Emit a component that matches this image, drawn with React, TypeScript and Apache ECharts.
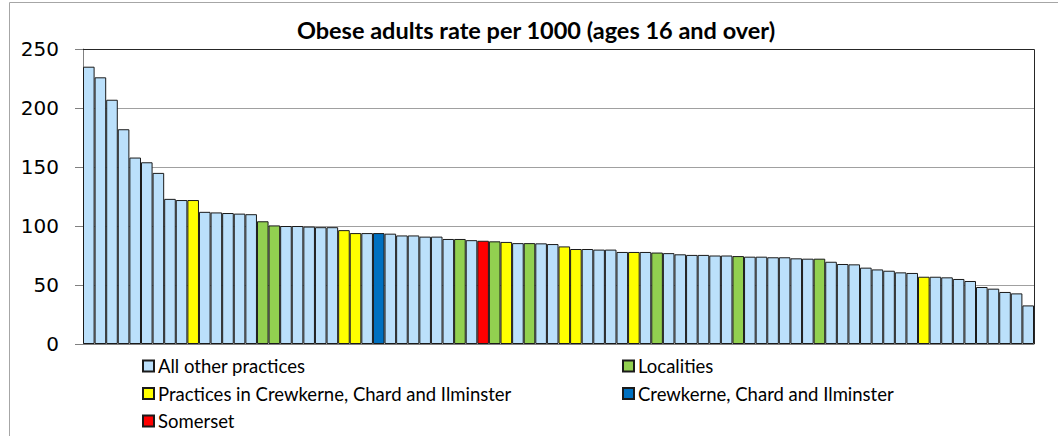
import React, { useEffect, useRef } from "react";
import * as echarts from "echarts";

const TITLE = "Obese adults rate per 1000 (ages 16 and over)";

const GROUP_NAMES = [
  "All other practices",
  "Localities",
  "Practices in Crewkerne, Chard and Ilminster",
  "Crewkerne, Chard and Ilminster",
  "Somerset",
];
const GROUP_COLORS = ["#BBE0FB", "#92D050", "#FFFF00", "#0070C0", "#FF0000"];

// bar values, in display order (descending)
const VALUES = [
  235, 226, 207, 182, 158, 154, 145, 123, 122, 122,
  112, 111.5, 111, 110.5, 110, 104, 100.5, 100, 100, 99.5,
  99, 99, 96.5, 94, 94, 94, 93.5, 92, 92, 91,
  91, 89, 89, 88, 87.5, 87, 86.5, 85.5, 85.5, 85.3,
  84.7, 82.7, 80.5, 80.5, 80, 80, 78, 78, 78, 77.5,
  77, 76, 75.5, 75.5, 75, 75, 74.5, 74, 74, 73.5,
  73.5, 72.6, 72.3, 72.3, 69.7, 67.8, 67.5, 64.7, 63.2, 62.1,
  60.7, 60.2, 57, 57, 56.5, 55.1, 53.4, 48.3, 46.9, 44.1,
  42.9, 32.7,
];

// group of each bar: 0 other, 1 locality, 2 CCI practice, 3 CCI locality, 4 Somerset
const GROUPS = [
  0, 0, 0, 0, 0, 0, 0, 0, 0, 2,
  0, 0, 0, 0, 0, 1, 1, 0, 0, 0,
  0, 0, 2, 2, 0, 3, 0, 0, 0, 0,
  0, 0, 1, 0, 4, 1, 2, 0, 1, 0,
  0, 2, 2, 0, 0, 0, 0, 2, 0, 1,
  0, 0, 0, 0, 0, 0, 1, 0, 0, 0,
  0, 0, 0, 1, 0, 0, 0, 0, 0, 0,
  0, 0, 2, 0, 0, 0, 0, 0, 0, 0,
  0, 0,
];

const CATEGORIES = VALUES.map((_, i) => String(i + 1));

const Y_MIN = 0;
const Y_MAX = 250;
const Y_STEP = 50;

const LEGEND_POS = [
  { left: 142, top: 355 },
  { left: 622, top: 355 },
  { left: 142, top: 382.5 },
  { left: 622, top: 382.5 },
  { left: 142, top: 410 },
];

export default function App() {
  const ref = useRef<HTMLDivElement>(null);

  useEffect(() => {
    if (!ref.current) return;
    const chart = echarts.init(ref.current, null, { renderer: "svg" });

    const series = GROUP_NAMES.map((name, g) => ({
      name,
      type: "bar",
      stack: "all",
      barCategoryGap: "0%",
      data: VALUES.map((v, i) => (GROUPS[i] === g ? v : "-")),
      itemStyle: {
        color: GROUP_COLORS[g],
        borderColor: "#1a1a1a",
        borderWidth: 1,
      },
      emphasis: { disabled: true },
    }));

    const legends = GROUP_NAMES.map((name, g) => ({
      data: [name],
      left: LEGEND_POS[g].left,
      top: LEGEND_POS[g].top,
      padding: 0,
      itemWidth: 11,
      itemHeight: 11,
      icon: "rect",
      selectedMode: false,
      textStyle: {
        fontFamily: "Lato",
        fontSize: 18.5,
        color: "#000",
        lineHeight: 22,
        padding: [0, 0, 0, -1],
      },
    }));

    chart.setOption({
      animation: false,
      backgroundColor: "#fff",
      grid: { left: 83, top: 49, right: 24, bottom: 92, containLabel: false },
      xAxis: {
        type: "category",
        data: CATEGORIES,
        axisLine: { show: true, lineStyle: { color: "#808080", width: 1 } },
        axisTick: { show: false },
        axisLabel: { show: false },
        splitLine: { show: false },
      },
      yAxis: {
        type: "value",
        min: Y_MIN,
        max: Y_MAX,
        interval: Y_STEP,
        axisLine: { show: true, lineStyle: { color: "#808080", width: 1 } },
        axisTick: { show: true, inside: false, length: 8, lineStyle: { color: "#808080" } },
        axisLabel: {
          margin: 24,
          fontFamily: "DejaVu Sans",
          fontSize: 20,
          color: "#000",
        },
        splitLine: { show: true, lineStyle: { color: "#a0a0a0", width: 1 } },
      },
      legend: legends,
      series,
      graphic: [
        {
          type: "rect",
          shape: { x: 9.5, y: 2.5, width: 1100, height: 500 },
          style: { fill: "none", stroke: "#a6a6a6", lineWidth: 1 },
          silent: true,
          z: 0,
        },
        {
          type: "polyline",
          shape: { points: [[83, 49.5], [1034.5, 49.5], [1034.5, 344]] },
          style: { fill: "none", stroke: "#262626", lineWidth: 1 },
          silent: true,
          z: 100,
        },
        {
          type: "text",
          x: 536,
          y: 30,
          style: {
            text: TITLE,
            fontFamily: "Lato",
            fontWeight: "bold",
            fontSize: 23.5,
            fill: "#000",
            textAlign: "center",
            textVerticalAlign: "middle",
          },
          silent: true,
        },
      ],
    });

    return () => chart.dispose();
  }, []);

  return (
    <div
      ref={ref}
      style={{ position: "absolute", left: 0, top: 0, width: 1058, height: 436 }}
    />
  );
}
